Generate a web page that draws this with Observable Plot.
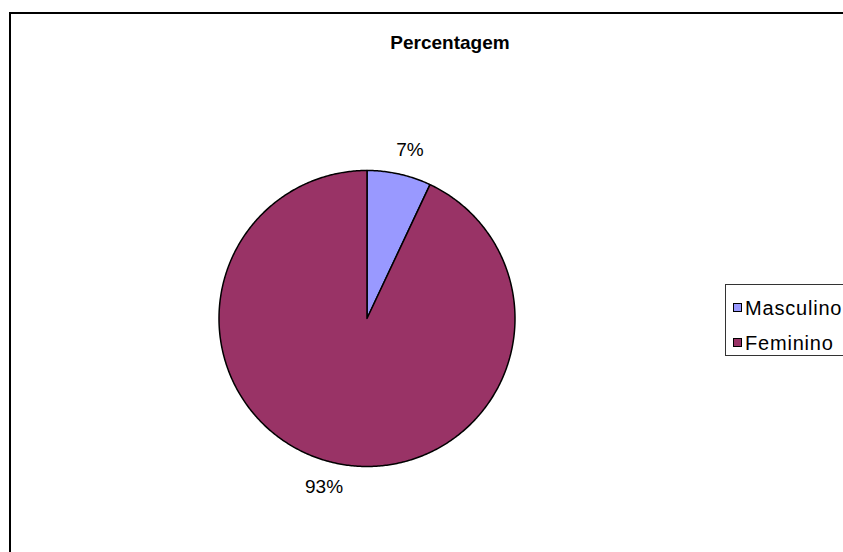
<!DOCTYPE html>
<html>
<head>
<meta charset="utf-8">
<script src="https://cdn.jsdelivr.net/npm/d3@7"></script>
<script src="https://cdn.jsdelivr.net/npm/@observablehq/plot@0.6"></script>
<style>
  html, body { margin: 0; padding: 0; background: #fff; }
  #wrap { position: relative; width: 843px; height: 552px; overflow: hidden; font-family: "Liberation Sans", Arial, sans-serif; }
  #frame { position: absolute; left: 9px; top: 12px; width: 900px; height: 600px; border: 2px solid #000; box-sizing: border-box; }
  #title { position: absolute; left: 350px; width: 200px; top: 32px; text-align: center; font-weight: bold; font-size: 19px; line-height: 22px; color: #000; }
  #chart { position: absolute; left: 0; top: 0; }
  #legend { position: absolute; left: 725px; top: 284px; width: 140px; height: 72px; border: 1px solid #333; box-sizing: border-box; background: #fff; }
  .item { position: absolute; left: 0; height: 20px; font-size: 20px; line-height: 20px; color: #000; white-space: nowrap; letter-spacing: 0.8px; }
  .sw { position: absolute; left: 7px; top: 5px; width: 9px; height: 9px; border: 1.5px solid #000; box-sizing: border-box; }
  .lab { position: absolute; left: 19px; top: 0; }
</style>
</head>
<body>
<div id="wrap">
  <div id="frame"></div>
  <div id="chart"></div>
  <div id="title"></div>
  <div id="legend"></div>
</div>
<script>
const title = "Percentagem";
const categories = ["Masculino", "Feminino"];
const values = [7, 93];
const colors = ["#9999FF", "#993366"];

const cx = 366.5, cy = 318, r = 148;

const pie = d3.pie().sort(null).value(d => d.value);
const arcs = pie(categories.map((c, i) => ({category: c, value: values[i], color: colors[i]})));
const total = d3.sum(values);

// polygon points for each slice
const pts = [];
for (const a of arcs) {
  const n = Math.max(2, Math.ceil((a.endAngle - a.startAngle) / 0.01));
  pts.push({cat: a.data.category, x: 0, y: 0});
  for (let k = 0; k <= n; k++) {
    const t = a.startAngle + (a.endAngle - a.startAngle) * k / n;
    pts.push({cat: a.data.category, x: Math.sin(t), y: Math.cos(t)});
  }
}
const labels = arcs.map(a => {
  const m = (a.startAngle + a.endAngle) / 2;
  const s = Math.sin(m);
  return {x: 1.17 * s + Math.sign(s) * 0.035, y: 1.165 * Math.cos(m), text: Math.round(a.data.value / total * 100) + "%"};
});

const plot = Plot.plot({
  width: 843,
  height: 552,
  margin: 0,
  x: {domain: [-1, 1], range: [cx - r, cx + r], axis: null},
  y: {domain: [-1, 1], range: [cy + r, cy - r], axis: null},
  color: {domain: categories, range: colors},
  style: {background: "transparent", fontFamily: "'Liberation Sans', Arial, sans-serif"},
  marks: [
    Plot.line(pts, {x: "x", y: "y", z: "cat", fill: "cat", stroke: "#000", strokeWidth: 1.5, curve: "linear-closed", strokeLinejoin: "round"}),
    Plot.text(labels, {x: "x", y: "y", text: "text", fontSize: 19, fill: "#000"})
  ]
});
document.getElementById("chart").appendChild(plot);
document.getElementById("title").textContent = title;

const legend = document.getElementById("legend");
categories.forEach((c, i) => {
  const it = document.createElement("div");
  it.className = "item";
  it.style.top = (13 + i * 35) + "px";
  const sw = document.createElement("div");
  sw.className = "sw";
  sw.style.background = colors[i];
  const lab = document.createElement("span");
  lab.className = "lab";
  lab.textContent = c;
  it.appendChild(sw); it.appendChild(lab);
  legend.appendChild(it);
});
</script>
</body>
</html>
